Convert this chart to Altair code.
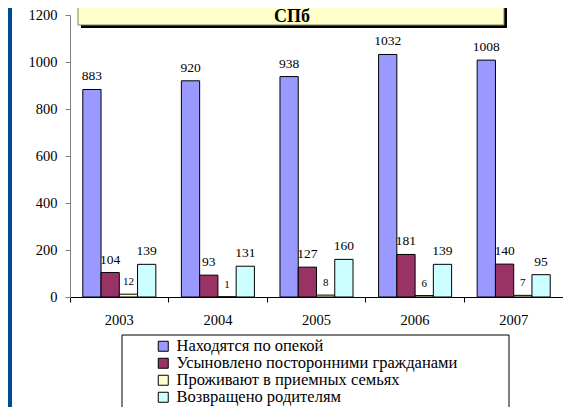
import altair as alt
import pandas as pd

years = ["2003", "2004", "2005", "2006", "2007"]
series = [
    "Находятся по опекой",
    "Усыновлено посторонними гражданами",
    "Проживают в приемных семьях",
    "Возвращено родителям",
]
guardianship = [883, 920, 938, 1032, 1008]
adopted = [104, 93, 127, 181, 140]
foster = [12, 1, 8, 6, 7]
returned = [139, 131, 160, 139, 95]
colors = ["#9999FF", "#993366", "#FFFFCC", "#CCFFFF"]
y_ticks = [0, 200, 400, 600, 800, 1000, 1200]
title_text = "СПб"

rows = []
for vals, name in zip([guardianship, adopted, foster, returned], series):
    for yr, v in zip(years, vals):
        rows.append({"Год": yr, "Серия": name, "Значение": v})
df = pd.DataFrame(rows)

FONT = "Liberation Serif"
CYR_FONT = "'Liberation Serif', 'DejaVu Serif', serif"

x_enc = alt.X(
    "Год:N",
    sort=years,
    scale=alt.Scale(paddingInner=0, paddingOuter=0),
    axis=alt.Axis(
        title=None, labelAngle=0, bandPosition=0, tickSize=5,
        domainColor="#000000", tickColor="#000000", labelFontSize=14.5,
        labelFont=FONT, labelColor="#000000", labelPadding=11,
    ),
)
xoff = alt.XOffset(
    "Серия:N", sort=series,
    scale=alt.Scale(domain=series, paddingInner=0, paddingOuter=0.7),
)
y_enc = alt.Y(
    "Значение:Q",
    scale=alt.Scale(domain=[0, 1200], nice=False),
    axis=alt.Axis(
        title=None, values=y_ticks, grid=False, tickSize=5, format="d",
        domainColor="#808080", tickColor="#808080", labelFontSize=14.5,
        labelFont=FONT, labelColor="#000000", labelPadding=8,
    ),
)
color_enc = alt.Color(
    "Серия:N",
    sort=series,
    scale=alt.Scale(domain=series, range=colors),
    legend=alt.Legend(
        title=None, orient="none", legendX=85, legendY=323,
        symbolType="square", symbolSize=100, symbolStrokeColor="#000000",
        symbolStrokeWidth=1, labelFont=CYR_FONT, labelFontSize=16.5,
        labelColor="#000000", rowPadding=0, padding=0, labelLimit=500,
        symbolOpacity=1, labelOffset=5,
    ),
)

base = alt.Chart(df)

strip = alt.Chart(pd.DataFrame({"a": [0]})).mark_rect(color="#004C99").encode(
    x=alt.value(-62), x2=alt.value(-58), y=alt.value(-10), y2=alt.value(400)
)

bars = base.mark_bar(stroke="#000000", strokeWidth=1, opacity=1).encode(
    x=x_enc, xOffset=xoff, y=y_enc, color=color_enc
)

labels_big = base.transform_filter(
    alt.datum["Серия"] != series[2]
).mark_text(font=FONT, fontSize=13.5, baseline="alphabetic", dy=-9, color="#000000").encode(
    x=x_enc, xOffset=xoff, y=y_enc, text="Значение:Q"
)
labels_small = base.transform_filter(
    alt.datum["Серия"] == series[2]
).mark_text(font=FONT, fontSize=11, baseline="alphabetic", dy=-9, color="#000000").encode(
    x=x_enc, xOffset=xoff, y=y_enc, text="Значение:Q"
)

one = pd.DataFrame({"t": [title_text]})
shadow = alt.Chart(one).mark_rect(color="#000000").encode(
    x=alt.value(11), x2=alt.value(437), y=alt.value(-10), y2=alt.value(13)
)
tbox = alt.Chart(one).mark_rect(fill="#FFFFCC", stroke="#808060", strokeWidth=1).encode(
    x=alt.value(8), x2=alt.value(434), y=alt.value(-10), y2=alt.value(10)
)
ttext = alt.Chart(one).mark_text(
    font=CYR_FONT, fontSize=18, fontWeight="bold", color="#000000", baseline="alphabetic"
).encode(x=alt.value(222), y=alt.value(7), text="t:N")

legbox = alt.Chart(one).mark_rect(fill="#FFFFFF", stroke="#000000", strokeWidth=1).encode(
    x=alt.value(52), x2=alt.value(439), y=alt.value(320), y2=alt.value(420)
)

chart = alt.layer(
    strip, bars, labels_big, labels_small, shadow, tbox, ttext, legbox
).properties(
    width=493, height=282,
    autosize=alt.AutoSizeParams(type="none"),
    padding={"left": 62, "top": 7, "right": 0, "bottom": 110},
).configure(
    background="#FFFFFF", font=FONT
).configure_view(stroke=None).configure_legend(
    labelFont=CYR_FONT, labelFontSize=16.5, labelColor="#000000"
)

chart.save("out.html", embed_options={"renderer": "svg", "actions": False})
